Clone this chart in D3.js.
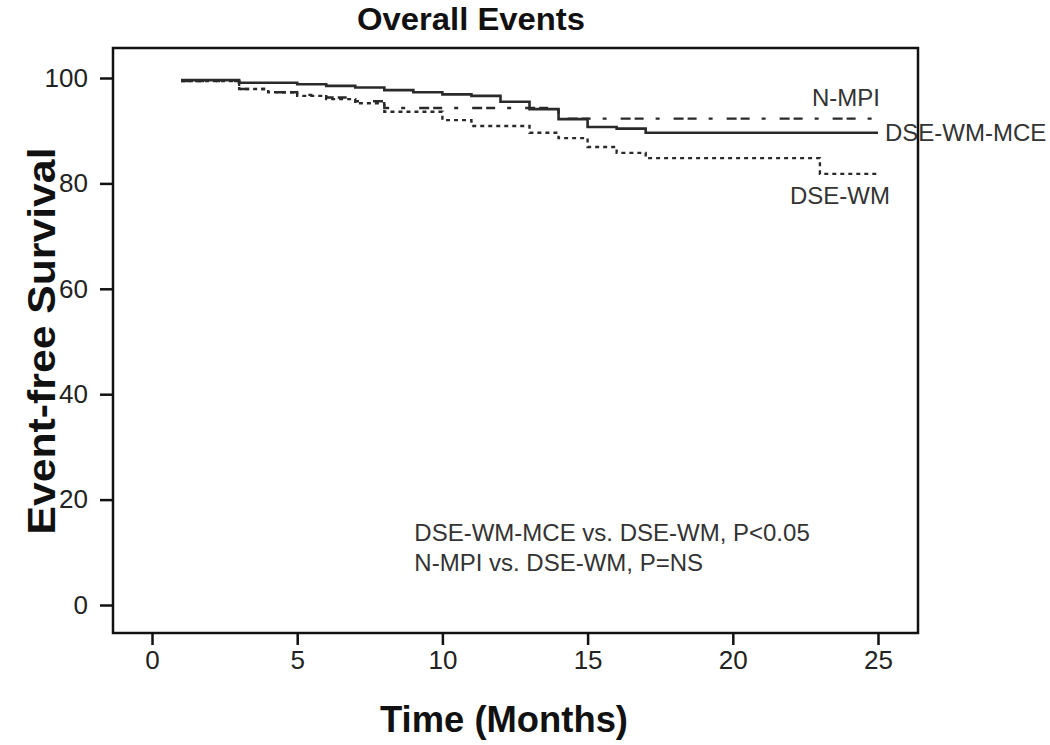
<!DOCTYPE html>
<html>
<head>
<meta charset="utf-8">
<script src="https://cdn.jsdelivr.net/npm/d3@7"></script>
<style>
  body { margin: 0; background: #fff; }
  svg { font-family: Arial, "Liberation Sans", sans-serif; }
</style>
</head>
<body>
<div id="chart"></div>
<script>
// Kaplan-Meier curves (months, % event-free)
const mceMonths = [1, 3, 5, 6, 7, 8, 9, 10, 11, 12, 13, 14, 15, 16, 17, 25];
const mceValues = [99.6, 99.1, 98.8, 98.5, 98.2, 97.7, 97.3, 96.9, 96.6, 95.5, 94.1, 92.2, 90.7, 90.4, 89.6, 89.6];

const nmpiMonths = [1, 3, 4, 5, 6, 7, 8, 14, 25];
const nmpiValues = [99.4, 97.9, 97.3, 96.8, 96.3, 95.6, 94.3, 92.3, 92.3];

const wmMonths = [1, 3, 4, 5, 6, 7, 8, 10, 11, 13, 14, 15, 16, 17, 23, 25];
const wmValues = [99.4, 97.9, 97.3, 96.6, 96.0, 95.2, 93.6, 92.0, 90.9, 89.6, 88.6, 86.9, 85.8, 84.8, 81.8, 81.8];

const xTicks = [0, 5, 10, 15, 20, 25];
const yTicks = [0, 20, 40, 60, 80, 100];
const notes = ["DSE-WM-MCE vs. DSE-WM, P<0.05", "N-MPI vs. DSE-WM, P=NS"];

const width = 1050, height = 745;
const box = { left: 113, top: 48, right: 918, bottom: 633 };

const svg = d3.select('#chart').append('svg')
    .attr('width', width)
    .attr('height', height);

const x = d3.scaleLinear().domain([0, 25]).range([152, 878]);
const y = d3.scaleLinear().domain([0, 100]).range([605, 78]);

// frame
svg.append('rect')
    .attr('x', box.left).attr('y', box.top)
    .attr('width', box.right - box.left)
    .attr('height', box.bottom - box.top)
    .attr('fill', 'none')
    .attr('stroke', '#111')
    .attr('stroke-width', 2.5);

// axes
const xAxis = svg.append('g')
    .attr('transform', `translate(0,${box.bottom})`)
    .call(d3.axisBottom(x).tickValues(xTicks).tickSize(12).tickPadding(6));
xAxis.select('.domain').remove();
xAxis.selectAll('line').attr('stroke', '#111').attr('stroke-width', 2.5);
xAxis.selectAll('text').attr('font-size', 26).attr('fill', '#222')
    .attr('font-family', 'Arial, "Liberation Sans", sans-serif');

const yAxis = svg.append('g')
    .attr('transform', `translate(${box.left},0)`)
    .call(d3.axisLeft(y).tickValues(yTicks).tickSize(13).tickPadding(12));
yAxis.select('.domain').remove();
yAxis.selectAll('line').attr('stroke', '#111').attr('stroke-width', 2.5);
yAxis.selectAll('text').attr('font-size', 26).attr('fill', '#222')
    .attr('font-family', 'Arial, "Liberation Sans", sans-serif');

// curves
const line = d3.line()
    .x(d => x(d[0]))
    .y(d => y(d[1]))
    .curve(d3.curveStepAfter);

const series = [
    { months: wmMonths, values: wmValues, dash: '4,4', width: 2.4 },
    { months: nmpiMonths, values: nmpiValues, dash: '10,4,9,12,4,14', width: 2.4 },
    { months: mceMonths, values: mceValues, dash: null, width: 2.6 }
];

svg.append('g')
    .selectAll('path')
    .data(series)
    .join('path')
    .attr('d', s => line(s.months.map((m, i) => [m, s.values[i]])))
    .attr('fill', 'none')
    .attr('stroke', '#2a2a2a')
    .attr('stroke-width', s => s.width)
    .attr('stroke-dasharray', s => s.dash);

// curve labels
const lastOf = a => a[a.length - 1];
const lbl = svg.append('g').attr('font-size', 24).attr('fill', '#333');
lbl.append('text')
    .attr('x', x(25) + 2).attr('y', y(lastOf(nmpiValues)) - 13)
    .attr('text-anchor', 'end')
    .text('N-MPI');
lbl.append('text')
    .attr('x', x(25) + 7).attr('y', y(lastOf(mceValues)) + 8)
    .text('DSE-WM-MCE');
lbl.append('text')
    .attr('x', x(25) + 12).attr('y', y(lastOf(wmValues)) + 30)
    .attr('text-anchor', 'end')
    .text('DSE-WM');

// p-value notes
svg.append('g')
    .attr('font-size', 24).attr('fill', '#333')
    .selectAll('text')
    .data(notes)
    .join('text')
    .attr('x', x(9) + 1)
    .attr('y', (d, i) => y(12) - 1 + i * 30)
    .text(d => d);

// titles
svg.append('text')
    .attr('x', 471).attr('y', 30)
    .attr('text-anchor', 'middle')
    .attr('font-size', 31).attr('font-weight', 'bold').attr('fill', '#111')
    .attr('textLength', 228).attr('lengthAdjust', 'spacingAndGlyphs')
    .text('Overall Events');

svg.append('text')
    .attr('x', 504).attr('y', 732)
    .attr('text-anchor', 'middle')
    .attr('font-size', 36).attr('font-weight', 'bold').attr('fill', '#111')
    .attr('textLength', 248).attr('lengthAdjust', 'spacingAndGlyphs')
    .text('Time (Months)');

svg.append('text')
    .attr('transform', 'translate(55,341) rotate(-90)')
    .attr('text-anchor', 'middle')
    .attr('font-size', 38).attr('font-weight', 'bold').attr('fill', '#111')
    .attr('textLength', 387).attr('lengthAdjust', 'spacingAndGlyphs')
    .text('Event-free Survival');
</script>
</body>
</html>
